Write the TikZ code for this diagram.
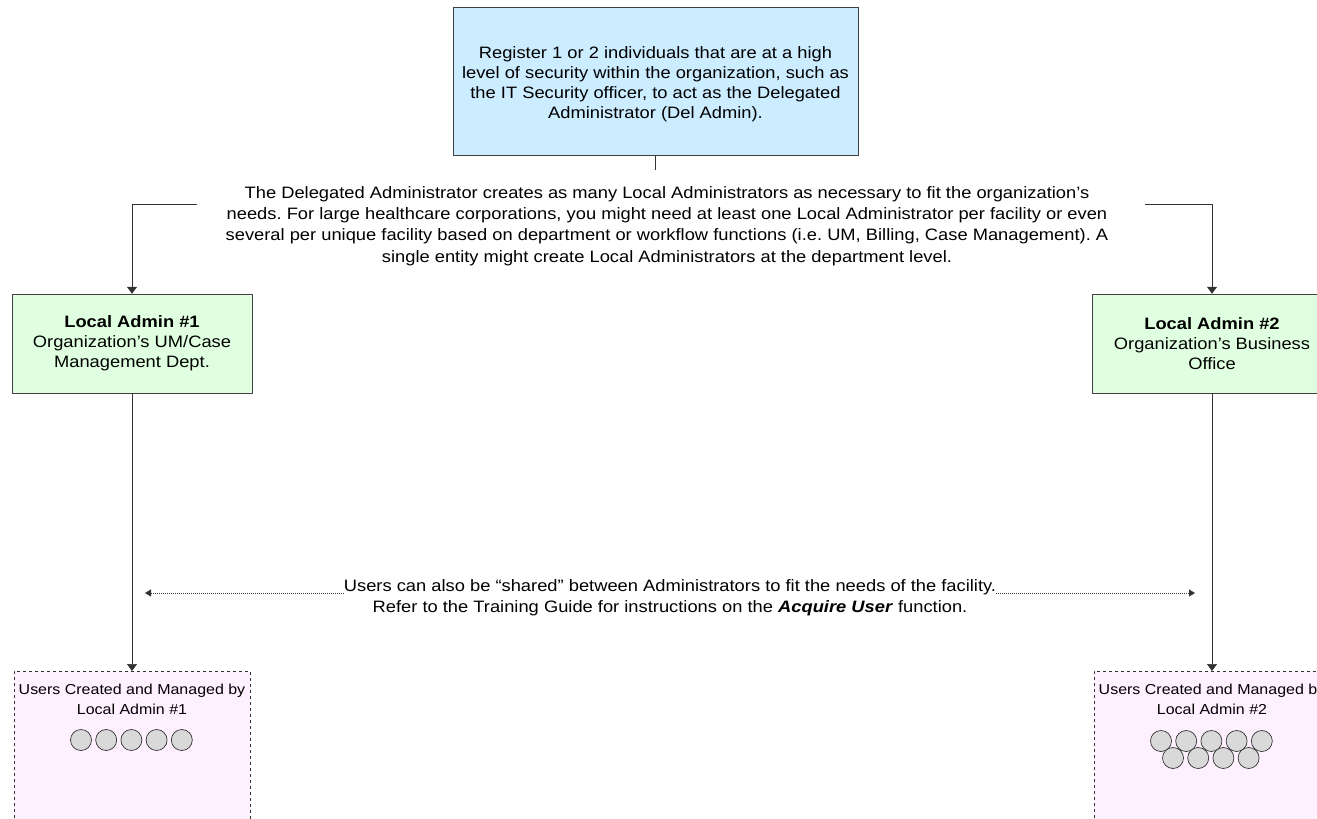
\documentclass[tikz,border=0pt]{standalone}
\usepackage{fontspec}
\setmainfont[FakeStretch=1.11]{Liberation Sans}
\usetikzlibrary{arrows.meta}
\definecolor{delblue}{HTML}{CCECFF}
\definecolor{localgreen}{HTML}{E0FFE0}
\definecolor{userpink}{HTML}{FFF0FF}
\definecolor{usergray}{HTML}{D9D9D9}
\frenchspacing
\begin{document}
\begin{tikzpicture}[x=1pt, y=-1pt,
    box/.style={draw=black!75, align=center, inner sep=0pt, font=\fontsize{16.5}{20}\selectfont},
    notetext/.style={align=center, inner sep=0pt, font=\fontsize{16.5}{21.3}\selectfont},
    userbox/.style={draw=black!80, dashed, fill=userpink, minimum width=236pt, minimum height=200pt, inner sep=0pt},
    usertext/.style={align=center, font=\fontsize{14.4}{20}\selectfont},
    user/.style={circle, draw=black!80, line width=0.7pt, fill=usergray, minimum size=21pt, inner sep=0pt},
    conn/.style={draw=black!80, line width=0.7pt, -{Triangle[width=10pt,length=7pt]}},
    share/.style={draw=black!80, line width=0.8pt, dash pattern=on 1pt off 1pt, -{Triangle[width=7pt,length=6pt]}}]
      \useasboundingbox (0,0) rectangle (1317,819);
      % top box and the note below it
      \node[box, fill=delblue, minimum width=405pt, minimum height=148pt] (del) at (655.5,81)
        {\rule{0pt}{18pt}Register 1 or 2 individuals that are at a high\\level of security within the organization, such as\\the IT Security officer, to act as the Delegated\\Administrator (Del Admin).};
      \coordinate (split) at (655.5,170);
      \node[notetext] (note) at (667,226)
        {The Delegated Administrator creates as many Local Administrators as necessary to fit the organization’s\\needs. For large healthcare corporations, you might need at least one Local Administrator per facility or even\\several per unique facility based on department or workflow functions (i.e. UM, Billing, Case Management). A\\single entity might create Local Administrators at the department level.};
      \coordinate (left) at (197,204);
      \coordinate (right) at (1145,204);
      % local admins
      \node[box, fill=localgreen, minimum width=240pt, minimum height=99pt] (la1) at (132,343.5)
        {\textbf{Local Admin \#1}\\Organization’s UM/Case\\Management Dept.};
      \node[box, fill=localgreen, minimum width=240pt, minimum height=99pt] (la2) at (1212,343.5)
        {\textbf{Local Admin \#2}\\Organization’s Business\\Office};
      % users
      \node[userbox, anchor=north] (u1) at (132,671) {};
      \node[userbox, anchor=north] (u2) at (1212,671) {};
      \node[usertext, anchor=north] (u1txt) at (132,681) {Users Created and Managed by\\Local Admin \#1};
      \node[usertext, anchor=north] (u2txt) at (1212,681) {Users Created and Managed by\\Local Admin \#2};
      \foreach \i in {0,...,4}
        \node[user] (a\i) at (81+25.2*\i,740) {};
      \foreach \i in {0,...,4}
        \node[user] (b\i) at (1161+25.2*\i,741) {};
      \foreach \i in {0,...,3}
        \node[user] (c\i) at (1173+25.2*\i,758) {};
      % shared users
      \node[notetext, font=\fontsize{16.5}{21}\selectfont] (shared) at (670,598)
        {Users can also be “shared” between Administrators to fit the needs of the facility.\\Refer to the Training Guide for instructions on the \textbf{\textit{Acquire User}} function.};
      \coordinate (sl) at (145,593);
      \coordinate (sr) at (1195,593);
      % connectors
      \draw[draw=black!80, line width=0.7pt] (del.south) -- (split);
      \draw[conn] (left) -| (la1.north);
      \draw[conn] (right) -| (la2.north);
      \draw[conn] (la1.south) -- (u1.north);
      \draw[conn] (la2.south) -- (u2.north);
      \draw[share] (shared.west |- sl) -- (sl);
      \draw[share] (shared.east |- sr) -- (sr);
\end{tikzpicture}
\end{document}
